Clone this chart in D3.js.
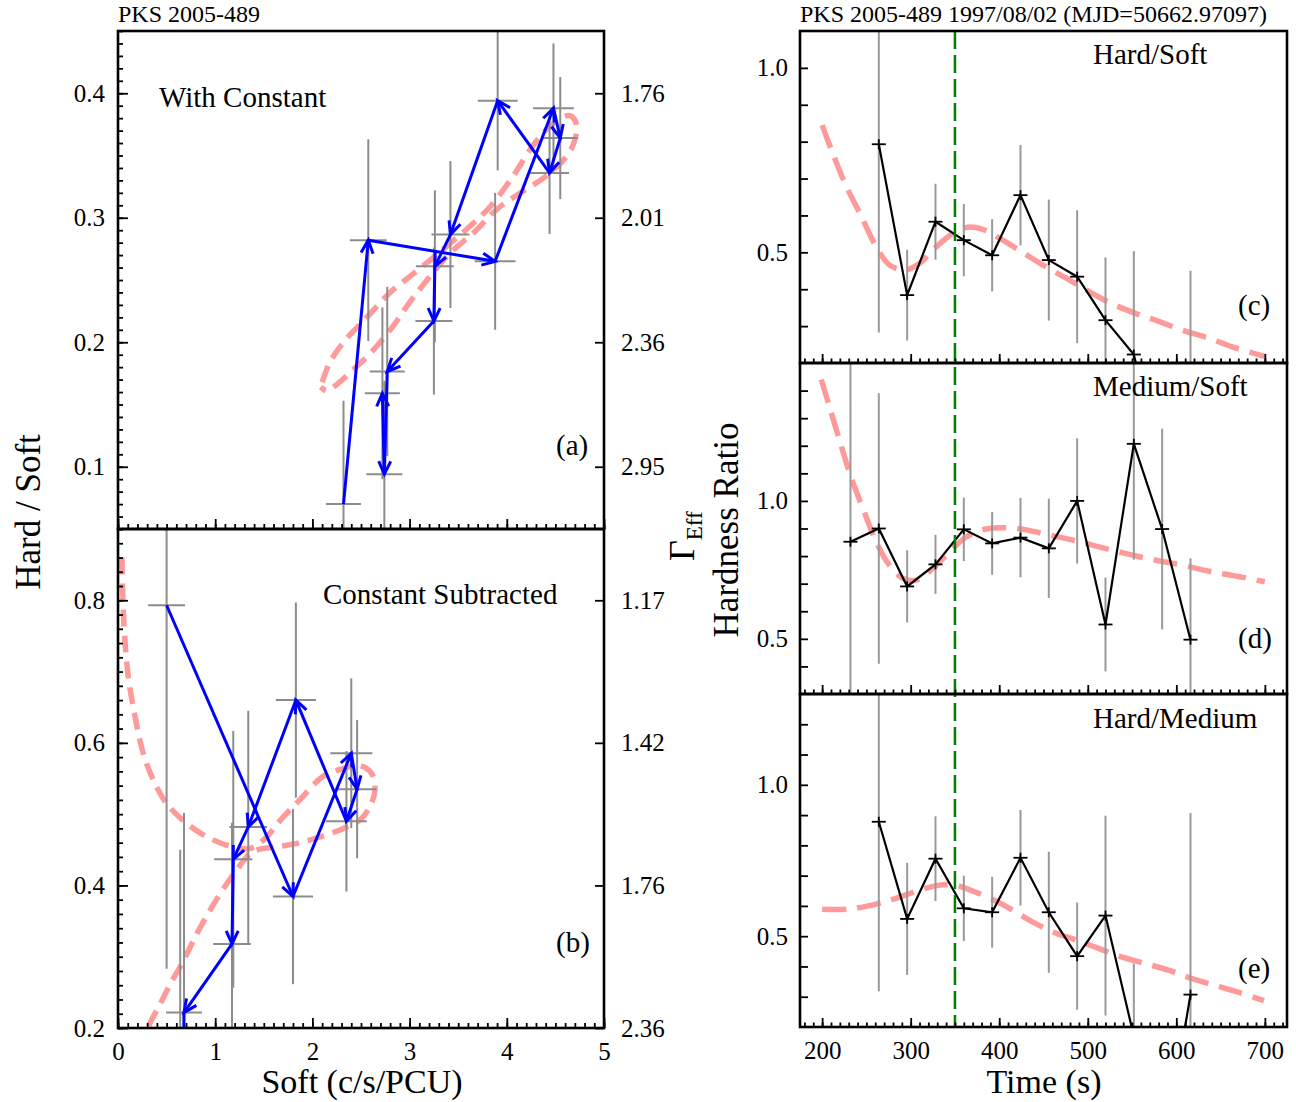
<!DOCTYPE html>
<html><head><meta charset="utf-8">
<script src="https://cdn.jsdelivr.net/npm/d3@7"></script>
<style>
body{margin:0;background:#fff;}
svg text{font-family:"Liberation Serif","Times New Roman",serif;fill:#000;}
</style></head><body>
<svg id="chart" width="1296" height="1102"></svg>
<script>
// ---------------- DATA ----------------
const binTimes = [232,264,296,328,360,392,424,456,488,520,552,584,616];

// (a) With Constant : soft count rate vs hard/soft
const aSoft    = [2.32, 2.575, 3.88, 4.48, 4.55, 4.44, 3.906, 3.42, 3.26, 3.25, 2.77, 2.74, 2.72];
const aSoftErr = [0.18, 0.19, 0.21, 0.21, 0.18, 0.20, 0.205, 0.195, 0.195, 0.19, 0.18, 0.185, 0.18];
const aHard    = [0.070, 0.282, 0.265, 0.388, 0.364, 0.336, 0.394, 0.2865, 0.261, 0.217, 0.1765, 0.094, 0.159];
const aHardErr = [0.083, 0.081, 0.055, 0.052, 0.049, 0.049, 0.056, 0.059, 0.061, 0.059, 0.068, 0.075, 0.069];

// (b) Constant Subtracted
const bSoft    = [null, 0.50, 1.80, 2.40, 2.46, 2.35, 1.83, 1.34, 1.186, 1.173, 0.679, 0.66, 0.64];
const bSoftErr = [null, 0.19, 0.206, 0.216, 0.197, 0.21, 0.206, 0.194, 0.197, 0.194, 0.185, 0.185, 0.18];
const bHard    = [null, 0.793, 0.3845, 0.5855, 0.535, 0.49, 0.66, 0.482, 0.4366, 0.318, 0.2216, -0.1, 0.1];
const bHardErr = [null, 0.51, 0.123, 0.105, 0.097, 0.0985, 0.137, 0.163, 0.18, 0.17, 0.28, 0.25, 0.35];

// (c) Hard/Soft, (d) Medium/Soft, (e) Hard/Medium vs time
const cVal = [null, 0.793, 0.384, 0.583, 0.533, 0.492, 0.655, 0.479, 0.434, 0.316, 0.223, -0.1, 0.1];
const cErr = [null, 0.51, 0.123, 0.103, 0.098, 0.098, 0.136, 0.164, 0.18, 0.17, 0.28, 0.25, 0.35];
const dVal = [0.852, 0.90, 0.69, 0.77, 0.897, 0.846, 0.867, 0.828, 1.0, 0.552, 1.207, 0.898, 0.497];
const dErr = [0.7, 0.49, 0.131, 0.107, 0.115, 0.114, 0.144, 0.18, 0.227, 0.17, 0.42, 0.364, 0.295];
const eVal = [null, 0.878, 0.557, 0.756, 0.592, 0.579, 0.759, 0.579, 0.434, 0.568, 0.17, -0.25, 0.307];
const eErr = [null, 0.56, 0.185, 0.14, 0.108, 0.117, 0.158, 0.2, 0.177, 0.33, 0.24, 0.2, 0.6];

// model tracks (dashed)
const aModelSoft = [2.10, 2.18, 2.32, 2.56, 2.80, 3.07, 3.35, 3.59, 3.83, 4.07, 4.27, 4.48, 4.65, 4.72, 4.68, 4.58, 4.38, 4.14, 3.90, 3.66, 3.42, 3.18, 3.00, 2.83, 2.63, 2.42, 2.25, 2.15, 2.085];
const aModelHard = [0.168, 0.184, 0.200, 0.220, 0.240, 0.257, 0.275, 0.291, 0.309, 0.334, 0.358, 0.376, 0.382, 0.374, 0.358, 0.346, 0.332, 0.320, 0.307, 0.288, 0.272, 0.250, 0.232, 0.213, 0.194, 0.178, 0.166, 0.161, 0.164];
const bModelSoft = [0.04, 0.062, 0.106, 0.175, 0.26, 0.363, 0.5, 0.707, 0.946, 1.186, 1.36, 1.53, 1.667, 1.87, 2.11, 2.32, 2.49, 2.61, 2.644, 2.59, 2.49, 2.32, 2.08, 1.84, 1.63, 1.46, 1.36, 1.255, 1.118, 0.946, 0.81, 0.672, 0.535, 0.432, 0.33, 0.25];
const bModelHard = [0.86, 0.764, 0.693, 0.637, 0.585, 0.548, 0.515, 0.487, 0.466, 0.454, 0.452, 0.468, 0.491, 0.52, 0.553, 0.564, 0.568, 0.557, 0.534, 0.51, 0.492, 0.48, 0.468, 0.459, 0.454, 0.451, 0.445, 0.428, 0.402, 0.365, 0.332, 0.294, 0.261, 0.233, 0.207, 0.18];
const cModelT = [200, 212, 227.5, 244.4, 261, 276, 293, 310, 329, 348, 364.6, 381.5, 404, 427, 449, 475.6, 502, 528, 554.5, 581, 607, 637, 663, 693.6, 700];
const cModelV = [0.845, 0.768, 0.678, 0.597, 0.515, 0.466, 0.452, 0.47, 0.515, 0.552, 0.568, 0.562, 0.533, 0.499, 0.466, 0.43, 0.393, 0.36, 0.334, 0.312, 0.289, 0.267, 0.244, 0.222, 0.218];
const dModelT = [199, 208.7, 220, 233, 246, 261, 276, 291.5, 306.5, 325, 344, 363, 385, 408, 430.5, 457, 487, 517, 547, 577, 607, 637, 667, 700];
const dModelV = [1.44, 1.337, 1.216, 1.083, 0.973, 0.852, 0.767, 0.719, 0.713, 0.755, 0.816, 0.87, 0.898, 0.903, 0.895, 0.876, 0.855, 0.83, 0.806, 0.785, 0.767, 0.745, 0.728, 0.707];
const eModelT = [200, 231, 261, 284, 306, 329, 348, 366.5, 389, 411.7, 434, 460.5, 487, 513, 539, 566, 592, 618.7, 644.7, 671, 699];
const eModelV = [0.589, 0.59, 0.606, 0.626, 0.648, 0.667, 0.67, 0.653, 0.626, 0.592, 0.553, 0.514, 0.487, 0.459, 0.431, 0.409, 0.387, 0.359, 0.337, 0.314, 0.287];

const flareTime = 350;

// ticks / labels
const softTicks = [0, 1, 2, 3, 4, 5];
const aTicks = [0.1, 0.2, 0.3, 0.4];
const aGammaLabels = ["2.95", "2.36", "2.01", "1.76"];
const bTicks = [0.2, 0.4, 0.6, 0.8];
const bGammaLabels = ["2.36", "1.76", "1.42", "1.17"];
const timeTicks = [200, 300, 400, 500, 600, 700];
const ratioLabels = [0.5, 1.0];
const cTicks = [0.3, 0.4, 0.5, 0.6, 0.7, 0.8, 0.9, 1.0];
const dTicks = [0.4, 0.5, 0.6, 0.7, 0.8, 0.9, 1.0, 1.1, 1.2, 1.3, 1.4];
const eTicks = [0.3, 0.4, 0.5, 0.6, 0.7, 0.8, 0.9, 1.0, 1.1, 1.2];

// ---------------- DRAW ----------------
const svg = d3.select("#chart");
const FONT = '"Liberation Serif","Times New Roman",serif';
const defs = svg.append("defs");

const L = {x0: 118, x1: 604}, A = {y0: 31, y1: 529}, B = {y0: 529, y1: 1028};
const R = {x0: 800, x1: 1287}, C = {y0: 31, y1: 363}, D = {y0: 363, y1: 694}, E = {y0: 694, y1: 1027};

const xSoft = d3.scaleLinear([0, 5], [L.x0, L.x1]);
const yA = d3.scaleLinear([0.05, 0.45], [A.y1, A.y0]);
const yB = d3.scaleLinear([0.2, 0.9], [B.y1, B.y0]);
const xT = d3.scaleLinear([175, 725], [R.x0, R.x1]);
const yC = d3.scaleLinear([0.2, 1.1], [C.y1, C.y0]);
const yD = d3.scaleLinear([0.3, 1.5], [D.y1, D.y0]);
const yE = d3.scaleLinear([0.2, 1.3], [E.y1, E.y0]);

function clip(id, x0, y0, x1, y1) {
  defs.append("clipPath").attr("id", id).append("rect")
    .attr("x", x0).attr("y", y0).attr("width", x1 - x0).attr("height", y1 - y0);
  return svg.append("g").attr("clip-path", `url(#${id})`);
}

// arrow marker
defs.append("marker").attr("id", "arr").attr("viewBox", "-16 -9 18 18")
  .attr("refX", 0).attr("refY", 0).attr("markerWidth", 18).attr("markerHeight", 18)
  .attr("markerUnits", "userSpaceOnUse").attr("orient", "auto").style("overflow", "visible")
  .append("path").attr("d", "M-13,-6L0,0L-13,6").attr("fill", "none")
  .attr("stroke", "#0000ff").attr("stroke-width", 3);

const smooth = d3.curveCatmullRom.alpha(0.5);

function hidPanel(id, y, box, soft, softErr, hard, hardErr, mS, mH) {
  const g = clip(id, L.x0, box.y0, L.x1, box.y1);
  const pts = d3.range(soft.length).filter(i => soft[i] !== null)
    .map(i => ({s: soft[i], se: softErr[i], h: hard[i], he: hardErr[i]}));
  const model = mS.map((s, i) => [s, mH[i]]);
  g.append("path").datum(model)
    .attr("d", d3.line().x(d => xSoft(d[0])).y(d => y(d[1])).curve(smooth))
    .attr("fill", "none").attr("stroke", "#ff9a9a").attr("stroke-width", 5.5)
    .attr("stroke-dasharray", "17,9");
  const eb = g.append("g").attr("stroke", "#8c8c8c").attr("stroke-width", 2);
  eb.selectAll(".h").data(pts).join("line")
    .attr("x1", d => xSoft(d.s - d.se)).attr("x2", d => xSoft(d.s + d.se))
    .attr("y1", d => y(d.h)).attr("y2", d => y(d.h));
  eb.selectAll(".v").data(pts).join("line").attr("class", "v")
    .attr("x1", d => xSoft(d.s)).attr("x2", d => xSoft(d.s))
    .attr("y1", d => y(d.h - d.he)).attr("y2", d => y(d.h + d.he));
  const segs = d3.pairs(pts);
  g.append("g").selectAll("line").data(segs).join("line")
    .attr("x1", d => xSoft(d[0].s)).attr("y1", d => y(d[0].h))
    .attr("x2", d => xSoft(d[1].s)).attr("y2", d => y(d[1].h))
    .attr("stroke", "#0000ff").attr("stroke-width", 3)
    .attr("marker-end", "url(#arr)");
}
hidPanel("clipA", yA, A, aSoft, aSoftErr, aHard, aHardErr, aModelSoft, aModelHard);
hidPanel("clipB", yB, B, bSoft, bSoftErr, bHard, bHardErr, bModelSoft, bModelHard);

function timePanel(id, y, box, vals, errs, mT, mV) {
  const g = clip(id, R.x0, box.y0, R.x1, box.y1);
  const model = mT.map((t, i) => [t, mV[i]]);
  g.append("path").datum(model)
    .attr("d", d3.line().x(d => xT(d[0])).y(d => y(d[1])).curve(smooth))
    .attr("fill", "none").attr("stroke", "#ff9a9a").attr("stroke-width", 5.5)
    .attr("stroke-dasharray", "24,11");
  const pts = d3.range(vals.length).filter(i => vals[i] !== null)
    .map(i => ({t: binTimes[i], v: vals[i], e: errs[i]}));
  g.append("g").selectAll("line").data(pts).join("line")
    .attr("x1", d => xT(d.t)).attr("x2", d => xT(d.t))
    .attr("y1", d => y(d.v - d.e)).attr("y2", d => y(d.v + d.e))
    .attr("stroke", "#999").attr("stroke-width", 2);
  g.append("path").datum(pts)
    .attr("d", d3.line().x(d => xT(d.t)).y(d => y(d.v)))
    .attr("fill", "none").attr("stroke", "#000").attr("stroke-width", 2.2);
  const m = g.append("g").attr("stroke", "#000").attr("stroke-width", 1.8);
  m.selectAll(".mh").data(pts).join("line").attr("class", "mh")
    .attr("x1", d => xT(d.t) - 7).attr("x2", d => xT(d.t) + 7)
    .attr("y1", d => y(d.v)).attr("y2", d => y(d.v));
  m.selectAll(".mv").data(pts).join("line").attr("class", "mv")
    .attr("x1", d => xT(d.t)).attr("x2", d => xT(d.t))
    .attr("y1", d => y(d.v) - 5).attr("y2", d => y(d.v) + 5);
}
timePanel("clipC", yC, C, cVal, cErr, cModelT, cModelV);
timePanel("clipD", yD, D, dVal, dErr, dModelT, dModelV);
timePanel("clipE", yE, E, eVal, eErr, eModelT, eModelV);

// flare start line
svg.append("line").attr("x1", xT(flareTime)).attr("x2", xT(flareTime))
  .attr("y1", C.y0).attr("y2", E.y1)
  .attr("stroke", "#008000").attr("stroke-width", 2.5).attr("stroke-dasharray", "18,6");

// ---------------- AXES ----------------
function styleAxis(g, size) {
  g.select(".domain").remove();
  g.attr("font-family", FONT).attr("font-size", size);
  g.selectAll(".tick line").attr("stroke", "#000").attr("stroke-width", 1.8);
  g.selectAll(".tick text").attr("fill", "#000");
}
const f1 = d3.format(".1f");
function put(axis, tx, ty, size = 25) {
  svg.append("g").attr("transform", `translate(${tx},${ty})`).call(axis).call(g => styleAxis(g, size));
}
// left panels
put(d3.axisLeft(yA).tickValues(aTicks).tickFormat(f1).tickSizeInner(-10).tickSizeOuter(0).tickPadding(13), L.x0, 0);
put(d3.axisLeft(yA).tickValues(d3.range(5, 46).map(d => d / 100)).tickFormat("").tickSizeInner(-5).tickSizeOuter(0), L.x0, 0);
put(d3.axisRight(yA).tickValues(aTicks).tickFormat((d, i) => aGammaLabels[i]).tickSizeInner(-9).tickSizeOuter(0).tickPadding(17), L.x1, 0);
put(d3.axisLeft(yB).tickValues(bTicks).tickFormat(f1).tickSizeInner(-10).tickSizeOuter(0).tickPadding(13), L.x0, 0);
put(d3.axisLeft(yB).tickValues(d3.range(10, 46).map(d => d / 50)).tickFormat("").tickSizeInner(-5).tickSizeOuter(0), L.x0, 0);
put(d3.axisRight(yB).tickValues(bTicks).tickFormat((d, i) => bGammaLabels[i]).tickSizeInner(-9).tickSizeOuter(0).tickPadding(17), L.x1, 0);
[A, B].forEach((box, k) => {
  put(d3.axisBottom(xSoft).tickValues(softTicks).tickFormat(k === 1 ? d3.format("d") : "").tickSizeInner(-10).tickSizeOuter(0).tickPadding(14), 0, box.y1);
  put(d3.axisBottom(xSoft).tickValues(d3.range(0, 51).map(d => d / 10)).tickFormat("").tickSizeInner(-5).tickSizeOuter(0), 0, box.y1);
});
// right panels
[[yC, cTicks, C], [yD, dTicks, D], [yE, eTicks, E]].forEach(([y, ticks, box], k) => {
  put(d3.axisLeft(y).tickValues(ticks).tickFormat(d => ratioLabels.some(r => Math.abs(r - d) < 1e-9) ? f1(d) : "")
      .tickSizeInner(-8).tickSizeOuter(0).tickPadding(12), R.x0, 0);
  put(d3.axisBottom(xT).tickValues(timeTicks).tickFormat(k === 2 ? d3.format("d") : "").tickSizeInner(-9).tickSizeOuter(0).tickPadding(14), 0, box.y1);
  put(d3.axisBottom(xT).tickValues(d3.range(180, 721, 10)).tickFormat("").tickSizeInner(-4.5).tickSizeOuter(0), 0, box.y1);
});

// frames
[[L, A], [L, B], [R, C], [R, D], [R, E]].forEach(([h, v]) => {
  svg.append("rect").attr("x", h.x0).attr("y", v.y0).attr("width", h.x1 - h.x0).attr("height", v.y1 - v.y0)
    .attr("fill", "none").attr("stroke", "#000").attr("stroke-width", 2.6);
});

// ---------------- TEXT ----------------
function txt(x, y, s, size, anchor = "start", rot = 0) {
  return svg.append("text").attr("x", x).attr("y", y).attr("font-size", size)
    .attr("text-anchor", anchor).attr("font-family", FONT)
    .attr("transform", rot ? `rotate(${rot},${x},${y})` : null).text(s);
}
txt(118, 22, "PKS 2005-489", 24);
txt(800, 22, "PKS 2005-489 1997/08/02 (MJD=50662.97097)", 24);
txt(159, 107, "With Constant", 29);
txt(323, 604, "Constant Subtracted", 29);
txt(1093, 64, "Hard/Soft", 29);
txt(1093, 396, "Medium/Soft", 29);
txt(1093, 728, "Hard/Medium", 29);
txt(556, 455, "(a)", 29);
txt(556, 952, "(b)", 29);
txt(1238, 315, "(c)", 29);
txt(1238, 648, "(d)", 29);
txt(1238, 978, "(e)", 29);
txt(40, 512, "Hard / Soft", 35, "middle", -90);
txt(362, 1093, "Soft (c/s/PCU)", 34, "middle");
txt(1044, 1093, "Time (s)", 34, "middle");
txt(738, 530, "Hardness Ratio", 35, "middle", -90);
const gam = svg.append("text").attr("x", 694).attr("y", 561).attr("font-family", FONT)
  .attr("transform", "rotate(-90,694,561)");
gam.append("tspan").attr("font-size", 36).text("Γ");
gam.append("tspan").attr("font-size", 23).attr("dy", 8).text("Eff");
</script>
</body></html>
